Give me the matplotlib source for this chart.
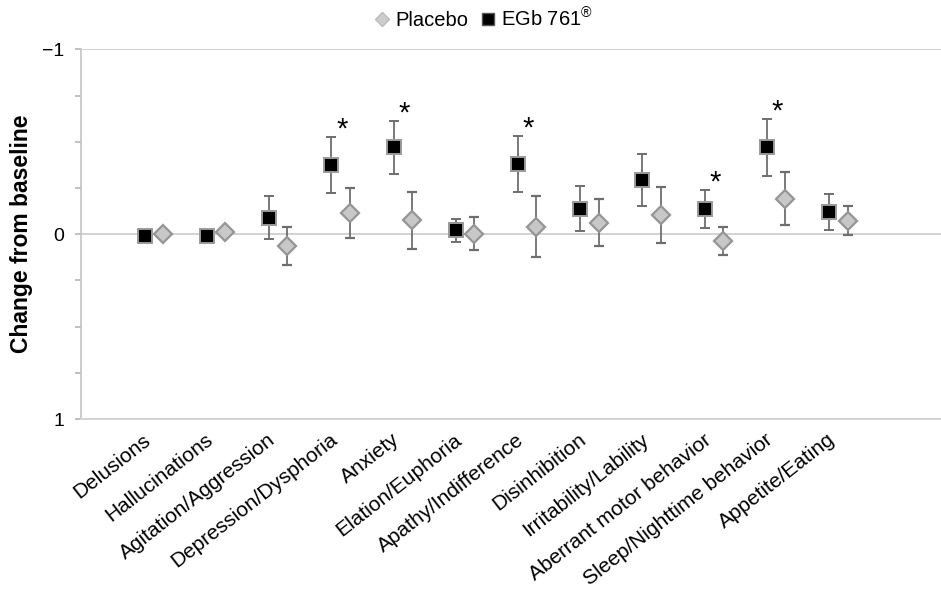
import numpy as np
import matplotlib
matplotlib.use('Agg')
import matplotlib.pyplot as plt
import matplotlib.transforms as mtransforms
from matplotlib.lines import Line2D

plt.rcParams['font.family'] = ['Liberation Sans', 'DejaVu Sans']
plt.rcParams['mathtext.fontset'] = 'custom'
plt.rcParams['mathtext.rm'] = 'Liberation Sans'

categories = ['Delusions', 'Hallucinations', 'Agitation/Aggression',
              'Depression/Dysphoria', 'Anxiety', 'Elation/Euphoria',
              'Apathy/Indifference', 'Disinhibition', 'Irritability/Lability',
              'Aberrant motor behavior', 'Sleep/Nighttime behavior',
              'Appetite/Eating']

egb_mean = [0.012, 0.012, -0.089, -0.374, -0.469, -0.021,
            -0.381, -0.138, -0.293, -0.138, -0.469, -0.120]
egb_err = [0.0, 0.0, 0.115, 0.151, 0.143, 0.063,
           0.152, 0.122, 0.138, 0.103, 0.156, 0.095]

placebo_mean = [0.0, -0.010, 0.066, -0.114, -0.075, -0.003,
                -0.039, -0.062, -0.102, 0.039, -0.192, -0.073]
placebo_err = [0.0, 0.0, 0.103, 0.134, 0.154, 0.088,
               0.165, 0.128, 0.151, 0.076, 0.142, 0.078]

significant = [3, 4, 6, 9, 10]

x = np.arange(len(categories))
off = 0.148

fig = plt.figure(figsize=(9.41, 5.89), dpi=100)
ax = fig.add_axes([0.0861, 0.2886, 0.9139, 0.6277])

err_col = '#6e6e6e'
ax.errorbar(x + off, placebo_mean, yerr=placebo_err, fmt='D', ms=8.8,
            mfc='#c8c8c8', mec='#959595', mew=1.6, ecolor=err_col,
            elinewidth=1.3, capsize=3.8, capthick=1.3, zorder=3)
ax.errorbar(x - off, egb_mean, yerr=egb_err, fmt='s', ms=10.5, mfc='black',
            mec='#9a9a9a', mew=1.4, ecolor=err_col, elinewidth=1.3,
            capsize=3.8, capthick=1.3, zorder=4)

for i in significant:
    ax.text(x[i] + 0.02, egb_mean[i] - egb_err[i] + 0.005, '*',
            ha='center', va='baseline', fontsize=21)

ax.set_xlim(-1.17, 12.65)
ax.set_ylim(1, -1)
ax.set_yticks([-1, 0, 1])
ax.set_yticklabels(['\u22121', '0', '1'])
ax.set_yticks([-0.75, -0.5, -0.25, 0.25, 0.5, 0.75], minor=True)
ax.tick_params(axis='y', which='both', direction='out', length=4,
               color='#b5b5b5', width=1.2, labelsize=14, pad=8)
ax.set_xticks(x)
ax.set_xticklabels(categories, rotation=38, ha='right',
                   rotation_mode='anchor', fontsize=15)
ax.tick_params(axis='x', length=0, pad=8)
shift = mtransforms.ScaledTranslation(-8 / 72, 0, fig.dpi_scale_trans)
for lab in ax.get_xticklabels():
    lab.set_transform(lab.get_transform() + shift)

for yv in [-1, 0]:
    ax.axhline(yv, color='#d2d2d2', lw=1.4, zorder=1)

for s in ['top', 'right']:
    ax.spines[s].set_visible(False)
ax.spines['left'].set_color('#c4c4c4')
ax.spines['left'].set_linewidth(1.2)
ax.spines['bottom'].set_color('#d2d2d2')
ax.spines['bottom'].set_linewidth(1.4)

ax.set_ylabel('Change from baseline', fontsize=16.5, fontweight='bold')
ax.yaxis.set_label_coords(-0.056, 0.5)

handles = [
    Line2D([], [], ls='none', marker='D', ms=7, mfc='#cccccc', mec='#bbbbbb'),
    Line2D([], [], ls='none', marker='s', ms=8.5, mfc='black', mec='#555555'),
]
fig.legend(handles, ['Placebo', r'EGb 761$^{\circledR}$'], loc='center',
           bbox_to_anchor=(0.513, 0.968), ncol=2, frameon=False,
           fontsize=14.5, handletextpad=0.15, columnspacing=0.5,
           handlelength=1.0)

fig.savefig('out.png', dpi=100)
